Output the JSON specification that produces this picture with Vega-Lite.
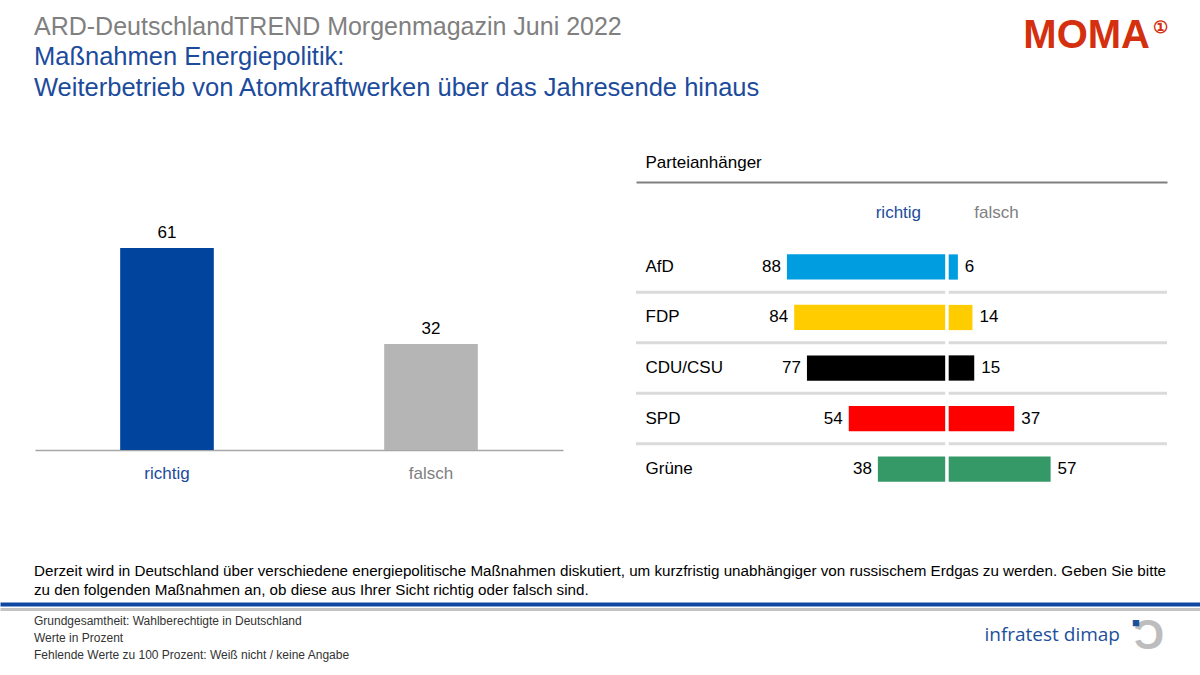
{
  "$schema": "https://vega.github.io/schema/vega-lite/v6.json",
  "padding": {"top": 14, "left": 0, "right": 0, "bottom": 0},
  "background": "white",
  "config": {
    "font": "Liberation Sans",
    "view": {"stroke": null},
    "axis": {"labelFont": "Liberation Sans", "titleFont": "Liberation Sans"}
  },
  "spacing": 58,
  "vconcat": [
    {
      "width": 1200,
      "height": 321.5,
      "title": {
        "text": "ARD-DeutschlandTREND Morgenmagazin Juni 2022",
        "subtitle": ["Maßnahmen Energiepolitik:", "Weiterbetrieb von Atomkraftwerken über das Jahresende hinaus"],
        "anchor": "start",
        "dx": 34,
        "fontSize": 25,
        "fontWeight": "normal",
        "color": "#808080",
        "subtitleFont": "Liberation Sans",
        "subtitleFontSize": 25.5,
        "subtitleColor": "#1c4b9c",
        "subtitleLineHeight": 31,
        "subtitlePadding": 5,
        "offset": -85
      },
      "resolve": {"scale": {"x": "independent", "y": "independent", "color": "independent"}, "axis": {"x": "independent", "y": "independent"}},
      "layer": [
        {
          "data": {"values": [
            {"antwort": "richtig", "wert": 61},
            {"antwort": "falsch", "wert": 32}
          ]},
          "encoding": {
            "x": {
              "field": "antwort",
              "type": "nominal",
              "sort": null,
              "scale": {"type": "band", "range": [35, 563], "paddingInner": 0.6453, "paddingOuter": 0.3226},
              "axis": {
                "title": null,
                "labelAngle": 0,
                "labelFontSize": 17,
                "labelPadding": 15,
                "ticks": false,
                "tickSize": 0,
                "offset": -53.5,
                "domainColor": "#a6a6a6",
                "domainWidth": 1.5,
                "labelColor": {"condition": {"test": "datum.value == 'richtig'", "value": "#1c4b9c"}, "value": "#808080"}
              }
            },
            "y": {"field": "wert", "type": "quantitative", "scale": {"domain": [0, 80.9], "range": [268, 0]}, "axis": null}
          },
          "layer": [
            {
              "mark": {"type": "bar"},
              "encoding": {
                "color": {"field": "antwort", "type": "nominal", "scale": {"domain": ["richtig", "falsch"], "range": ["#00449e", "#b5b5b5"]}, "legend": null}
              }
            },
            {
              "mark": {"type": "text", "baseline": "middle", "dy": -15, "fontSize": 17, "color": "#000000"},
              "encoding": {"text": {"field": "wert", "type": "quantitative"}}
            }
          ]
        },
        {
          "data": {"values": [
            {"partei": "AfD", "richtig": 88, "falsch": 6},
            {"partei": "FDP", "richtig": 84, "falsch": 14},
            {"partei": "CDU/CSU", "richtig": 77, "falsch": 15},
            {"partei": "SPD", "richtig": 54, "falsch": 37},
            {"partei": "Grüne", "richtig": 38, "falsch": 57}
          ]},
          "resolve": {"scale": {"x": "independent"}, "axis": {"x": "independent"}},
          "layer": [
            {
              "transform": [{"filter": "datum.partei != 'Grüne'"}],
              "mark": {"type": "rule", "color": "#dadada", "strokeWidth": 3},
              "encoding": {
                "y": {"field": "partei", "type": "nominal", "bandPosition": 1},
                "x": {"datum": -171, "type": "quantitative", "scale": {"domain": [-171, 121], "range": [636, 1167]}, "axis": null},
                "x2": {"datum": 121}
              }
            },
            {
              "mark": {"type": "bar", "height": {"band": 0.5}},
              "encoding": {
                "y": {
                  "field": "partei",
                  "type": "nominal",
                  "scale": {"type": "band", "domain": [" ", "AfD", "FDP", "CDU/CSU", "SPD", "Grüne"], "paddingInner": 0, "paddingOuter": 0.183},
                  "axis": {"title": null, "domain": false, "ticks": false, "tickSize": 0, "labelAlign": "left", "labelPadding": -645, "labelFontSize": 17, "labelColor": "#000000", "zindex": 1}
                },
                "x": {"field": "richtig", "type": "quantitative", "scale": {"domain": [171, -121], "range": [636, 1167]}, "axis": null},
                "x2": {"datum": 0},
                "color": {"field": "partei", "type": "nominal", "scale": {"domain": ["AfD", "FDP", "CDU/CSU", "SPD", "Grüne"], "range": ["#009ee0", "#ffcc00", "#000000", "#ff0000", "#349966"]}, "legend": null}
              }
            },
            {
              "mark": {"type": "bar", "height": {"band": 0.5}},
              "encoding": {
                "y": {"field": "partei", "type": "nominal"},
                "x": {
                  "field": "falsch",
                  "type": "quantitative",
                  "scale": {"domain": [-171, 121], "range": [636, 1167]},
                  "axis": {
                    "orient": "top",
                    "title": "Parteianhänger",
                    "titleFontSize": 17,
                    "titleFontWeight": "normal",
                    "titleColor": "#000000",
                    "titleAlign": "left",
                    "titleBaseline": "alphabetic",
                    "titleX": 645,
                    "titleY": -15,
                    "values": [-27, 27],
                    "labelExpr": "datum.value < 0 ? 'richtig' : 'falsch'",
                    "labelColor": {"condition": {"test": "datum.value < 0", "value": "#1c4b9c"}, "value": "#808080"},
                    "labelFontSize": 17,
                    "labelPadding": -35,
                    "labelBaseline": "alphabetic",
                    "labelFlush": false,
                    "labelOverlap": false,
                    "ticks": false,
                    "tickSize": 0,
                    "grid": false,
                    "domainColor": "#808080",
                    "domainWidth": 2,
                    "zindex": 1
                  }
                },
                "x2": {"datum": 0},
                "color": {"field": "partei", "type": "nominal", "legend": null}
              }
            },
            {
              "mark": {"type": "rule", "color": "white", "strokeWidth": 2.5},
              "encoding": {
                "x": {"datum": 0, "type": "quantitative", "scale": {"domain": [-171, 121], "range": [636, 1167]}, "axis": null}
              }
            },
            {
              "mark": {"type": "text", "align": "right", "baseline": "middle", "dx": -6, "fontSize": 17, "color": "#000000"},
              "encoding": {
                "y": {"field": "partei", "type": "nominal"},
                "x": {"field": "richtig", "type": "quantitative", "scale": {"domain": [171, -121], "range": [636, 1167]}, "axis": null},
                "text": {"field": "richtig", "type": "quantitative"}
              }
            },
            {
              "mark": {"type": "text", "align": "left", "baseline": "middle", "dx": 7, "fontSize": 17, "color": "#000000"},
              "encoding": {
                "y": {"field": "partei", "type": "nominal"},
                "x": {"field": "falsch", "type": "quantitative", "scale": {"domain": [-171, 121], "range": [636, 1167]}, "axis": null},
                "text": {"field": "falsch", "type": "quantitative"}
              }
            },
            {
              "data": {"values": [{"logo": "MOMA"}]},
              "mark": {"type": "text", "align": "right", "baseline": "middle", "dx": -17, "dy": -180, "fontSize": 40, "fontWeight": 900, "color": "#d4300f"},
              "encoding": {
                "y": {"datum": " ", "type": "nominal"},
                "x": {"datum": 121, "type": "quantitative", "scale": {"domain": [-171, 121], "range": [636, 1167]}, "axis": null},
                "text": {"field": "logo"}
              }
            },
            {
              "data": {"values": [{"logo": "①"}]},
              "mark": {"type": "text", "align": "left", "baseline": "middle", "dx": -14, "dy": -188, "fontSize": 17, "fontWeight": "bold", "color": "#d4300f"},
              "encoding": {
                "y": {"datum": " ", "type": "nominal"},
                "x": {"datum": 121, "type": "quantitative", "scale": {"domain": [-171, 121], "range": [636, 1167]}, "axis": null},
                "text": {"field": "logo"}
              }
            }
          ]
        }
      ]
    },
    {
      "width": 1200,
      "height": 68,
      "title": {
        "text": [
          "Derzeit wird in Deutschland über verschiedene energiepolitische Maßnahmen diskutiert, um kurzfristig unabhängiger von russischem Erdgas zu werden. Geben Sie bitte",
          "zu den folgenden Maßnahmen an, ob diese aus Ihrer Sicht richtig oder falsch sind."
        ],
        "anchor": "start",
        "fontSize": 15.2,
        "fontWeight": "normal",
        "color": "#000000",
        "lineHeight": 19,
        "dx": 34,
        "offset": 6
      },
      "resolve": {"scale": {"x": "independent"}, "axis": {"x": "independent"}},
      "layer": [
        {
          "data": {"values": [
            {"zeile": 1, "text": "Grundgesamtheit:  Wahlberechtigte in Deutschland"},
            {"zeile": 2, "text": "Werte in Prozent"},
            {"zeile": 3, "text": "Fehlende  Werte zu 100 Prozent: Weiß nicht / keine Angabe"}
          ]},
          "mark": {"type": "text", "align": "left", "baseline": "middle", "dx": 34, "fontSize": 12, "color": "#333333"},
          "encoding": {
            "x": {
              "datum": 0,
              "type": "quantitative",
              "scale": {"domain": [0, 1]},
              "axis": {"orient": "top", "title": null, "labels": false, "ticks": false, "grid": false, "domainColor": "#0d47a1", "domainWidth": 4, "zindex": 1}
            },
            "y": {"field": "zeile", "type": "ordinal", "scale": {"type": "point", "padding": 1.43}, "axis": null},
            "text": {"field": "text"}
          }
        },
        {
          "data": {"values": [
            {"teil": "schrift", "zeichen": "infratest dimap"}
          ]},
          "mark": {"type": "text", "align": "right", "baseline": "middle", "dx": -80, "dy": -3, "font": "Open Sans", "fontSize": 19, "color": "#1c4f9c"},
          "encoding": {
            "x": {
              "datum": 1,
              "type": "quantitative",
              "scale": {"domain": [0, 1]},
              "axis": {"orient": "top", "title": null, "labels": false, "ticks": false, "grid": false, "offset": -5, "domainColor": "#c3c3c3", "domainWidth": 3, "zindex": 1}
            },
            "text": {"field": "zeichen"}
          }
        },
        {
          "data": {"values": [{"zeichen": "Ɔ"}]},
          "mark": {"type": "text", "align": "center", "baseline": "middle", "dx": -51, "dy": -2, "fontSize": 42, "fontWeight": "bold", "color": "#bdbdbd"},
          "encoding": {
            "x": {"datum": 1, "type": "quantitative", "scale": {"domain": [0, 1]}, "axis": null},
            "text": {"field": "zeichen"}
          }
        },
        {
          "data": {"values": [{"zeichen": "■"}]},
          "mark": {"type": "text", "align": "center", "baseline": "middle", "dx": -64, "dy": -15, "fontSize": 13, "color": "#1c4f9c"},
          "encoding": {
            "x": {"datum": 1, "type": "quantitative", "scale": {"domain": [0, 1]}, "axis": null},
            "text": {"field": "zeichen"}
          }
        }
      ]
    }
  ]
}
